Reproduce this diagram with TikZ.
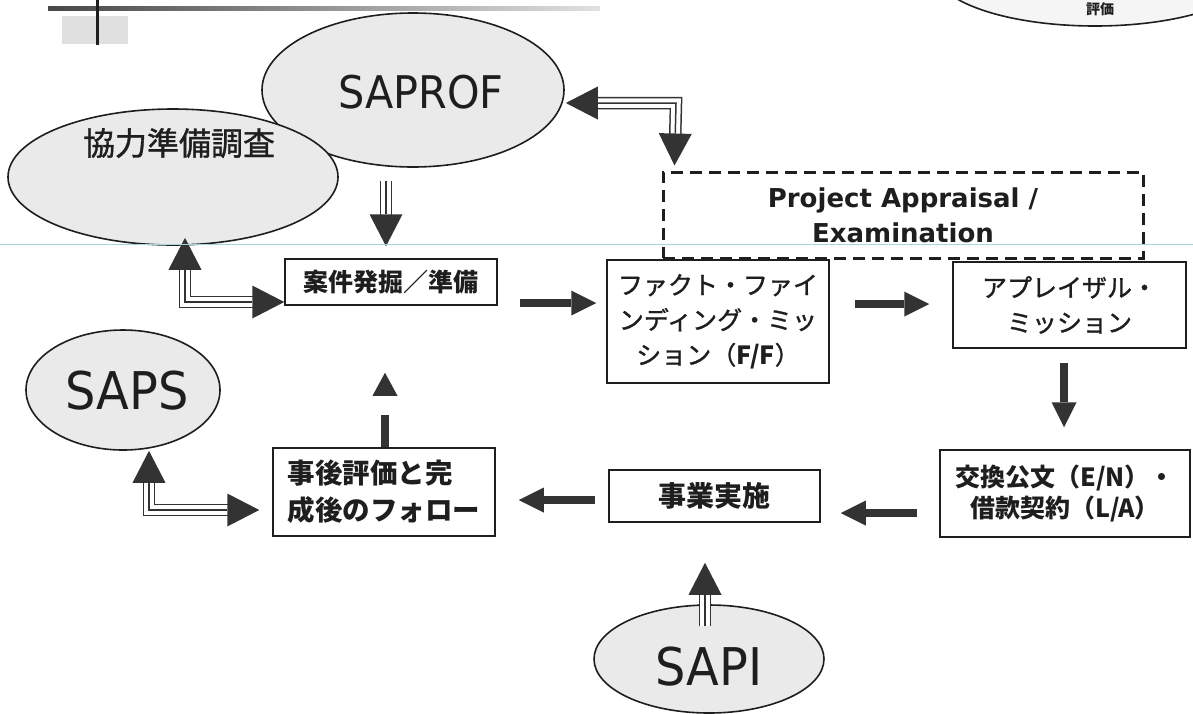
\documentclass[tikz,border=0pt]{standalone}
\usepackage{fontspec}
\usetikzlibrary{shapes.geometric,arrows.meta,calc}
\newfontfamily\jp{Noto Sans CJK JP}
\newfontfamily\jpm[FakeBold=1.2]{Noto Sans CJK JP}
\newfontfamily\lat[FakeStretch=0.92]{DejaVu Sans}
\newfontfamily\latb{DejaVu Sans}
\definecolor{ink}{HTML}{1E1E1E}
\definecolor{arrc}{HTML}{333333}
\definecolor{ellg}{HTML}{EAEAEA}
\definecolor{scanline}{HTML}{A9D3E3}
\newcommand{\fsz}[2]{\fontsize{#1}{#2}\selectfont}
\begin{document}
\begin{tikzpicture}[x=1pt,y=-1pt,
  ell/.style={ellipse, draw=ink, line width=1.6pt, fill=ellg, inner sep=0pt},
  eltext/.style={text=ink, inner sep=0pt},
  box/.style={rectangle, draw=ink, line width=1.5pt, fill=white, inner sep=0pt, align=center, text=ink},
  sarr/.style={draw=arrc, line width=8pt, line cap=butt, -{Triangle[length=25pt,width=25pt,line width=0pt]}},
  brokenarr/.style={draw=arrc, line width=8pt, line cap=butt, dash pattern=on 32pt off 60pt, -{Triangle[length=23pt,width=25pt,line width=0pt]}},
  dend/.style={draw=arrc, line width=1.5pt, -{Triangle[length=32pt,width=33pt,line width=0pt]},
     preaction={draw=arrc, line width=12.5pt, arrows=-, shorten >=29pt},
     preaction={draw=white, line width=9.5pt, arrows=-, shorten >=29pt}},
  dboth/.style={draw=arrc, line width=1.5pt, {Triangle[length=32pt,width=33pt,line width=0pt]}-{Triangle[length=32pt,width=33pt,line width=0pt]},
     preaction={draw=arrc, line width=12.5pt, arrows=-, shorten >=29pt, shorten <=29pt},
     preaction={draw=white, line width=9.5pt, arrows=-, shorten >=29pt, shorten <=29pt}},
  dashbox/.style={rectangle, draw=ink, line width=3pt, dash pattern=on 12pt off 7pt, inner sep=0pt, align=center, text=ink}
]
\useasboundingbox (0,0) rectangle (1193,713);
\clip (0,0) rectangle (1193,713);
\fill[white] (0,0) rectangle (1193,713);

% top decoration (page header remnants)
\fill[black!12] (62,16) rectangle (128,44);
\shade[left color=black!72, right color=black!12] (48,6) rectangle (600,10);
\draw[line width=3pt, ink] (97,0) -- (97,45);
\node[ell, fill=black!4, minimum width=320, minimum height=110] (topE) at (1095,-29) {};
\node[eltext, font=\jp\bfseries\fsz{14}{14}] (topT) at (1100,9) {評価};

% ellipses
\node[ell, minimum width=302, minimum height=154] (sapE) at (413,90) {};
\node[ell, minimum width=330, minimum height=136] (kyE) at (173,177) {};
\node[eltext, font=\lat\fsz{45}{45}] (sapT) at (421,92) {SAPROF};
\node[eltext, font=\jpm\fsz{32}{32}] (kyT) at (179,143) {協力準備調査};
\node[ell, minimum width=194, minimum height=120] (sapsE) at (123,390) {};
\node[eltext, font=\lat\fsz{52}{52}] (sapsT) at (127,391) {SAPS};
\node[ell, minimum width=230, minimum height=108] (sapiE) at (709,659) {};
\node[eltext, font=\lat\fsz{52}{52}] (sapiT) at (709,667) {SAPI};

% boxes
\node[box, minimum width=212, minimum height=46, font=\jp\bfseries\fsz{25}{30}] (anken) at (391,282) {案件発掘／準備};
\node[box, minimum width=222, minimum height=123, font=\jpm\fsz{25}{35}] (fact) at (718,321.5) {ファクト・ファイ\\ンディング・ミッ\\ション（{\jp\bfseries F/F}）};
\node[box, minimum width=233, minimum height=86, font=\jpm\fsz{25}{35}] (appr) at (1069.5,305) {アプレイザル・\\ミッション};
\node[box, minimum width=250, minimum height=87, font=\jp\bfseries\fsz{25}{31}] (kokan) at (1065,493.5) {交換公文（E/N）・\\借款契約（L/A）};
\node[box, minimum width=211, minimum height=52, font=\jp\bfseries\fsz{28}{30}] (jigyo) at (714.5,496) {事業実施};
\node[box, minimum width=222, minimum height=88, align=left, font=\jp\bfseries\fsz{27.5}{37}] (jigo) at (384,492) {事後評価と完\\成後のフォロー};
\node[dashbox, minimum width=480, minimum height=86, font=\latb\bfseries\fsz{26}{35}] (dashed) at (903,215) {Project Appraisal /\\Examination};

% bend corners
\coordinate (csap) at (676,103);
\coordinate (cky) at (185,302);
\coordinate (csaps) at (149,510);

% single arrows
\draw[sarr] ($(anken.east)+(22,21)$) -- ($(fact.west)+(-10,-18.5)$);
\draw[sarr] ($(fact.east)+(25,-17.5)$) -- ($(appr.west)+(-23,-1)$);
\draw[sarr] ($(appr.south)+(-5.5,14)$) -- ($(kokan.north)+(-1,-22)$);
\draw[sarr] ($(kokan.west)+(-22,19.5)$) -- ($(jigyo.east)+(20,17)$);
\draw[sarr] ($(jigyo.west)+(-13,4)$) -- ($(jigo.east)+(23,8)$);
\draw[brokenarr] ($(jigo.north)+(1,0)$) -- ($(anken.south)+(-6,67)$);

% double-line arrows
\draw[dend] ($(sapE.south)+(-27,13)$) -- ($(anken.north)+(-5,-12)$);
\draw[dboth] ($(sapE.east)+(1,13)$) -- (csap) -- ($(dashed.north west)+(13,-5)$);
\draw[dboth] ($(kyE.south)+(12,-8)$) -- (cky) -- ($(anken.west)+(0,20)$);
\draw[dboth] ($(sapsE.south)+(26,0)$) -- (csaps) -- ($(jigo.west)+(-13,18)$);
\draw[dend] ($(sapiE.north)+(-4,22)$) -- ($(jigyo.south)+(-9.5,40)$);

% scan guide line
\draw[scanline, line width=0.9pt] (0,244) -- (1193,244);
\end{tikzpicture}
\end{document}
